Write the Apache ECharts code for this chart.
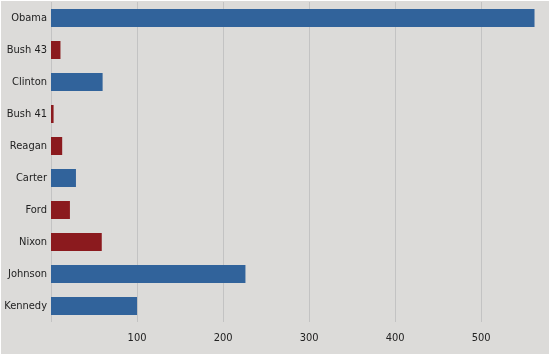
<!DOCTYPE html>
<html><head><meta charset="utf-8">
<script src="https://cdn.jsdelivr.net/npm/echarts@6/dist/echarts.min.js"></script>
<style>html,body{margin:0;padding:0;background:#fff;}#c{position:absolute;left:1px;top:1px;width:548px;height:353px;background:#dcdbd9;}</style>
</head><body><div id="c"></div>
<script>
const categories = ["Obama","Bush 43","Clinton","Bush 41","Reagan","Carter","Ford","Nixon","Johnson","Kennedy"];
const values = [562, 11, 60, 3, 13, 29, 22, 59, 226, 100];
const parties = ["D","R","D","R","R","D","R","R","D","D"];
const tickValues = [100,200,300,400,500];
const colors = {D:"#31639b", R:"#8b1a1e"};
const chart = echarts.init(document.getElementById('c'));
const font = '"DejaVu Sans Condensed","Liberation Sans Narrow",sans-serif';
chart.setOption({
  animation:false,
  grid:{left:50, top:1, width:499, height:320, containLabel:false, outerBoundsMode:'none'},
  xAxis:{type:'value', min:0, max:580, interval:100,
    axisLine:{show:false}, axisTick:{show:false},
    splitLine:{show:true, lineStyle:{color:'#c3c3c3', width:1}},
    axisLabel:{margin:11, color:'#222', fontFamily:font, fontSize:11, fontWeight:'normal',
      showMinLabel:false, showMaxLabel:false,
      formatter:v=>tickValues.includes(v)?String(v):''}
  },
  yAxis:{type:'category', inverse:true, data:categories,
    axisLine:{show:false}, axisTick:{show:false},
    axisLabel:{margin:4, color:'#222', fontFamily:font, fontSize:11, fontWeight:'normal'}
  },
  series:[{type:'bar', barWidth:18,
    data:values.map((v,i)=>({value:v, itemStyle:{color:colors[parties[i]]}}))}]
});
</script></body></html>
